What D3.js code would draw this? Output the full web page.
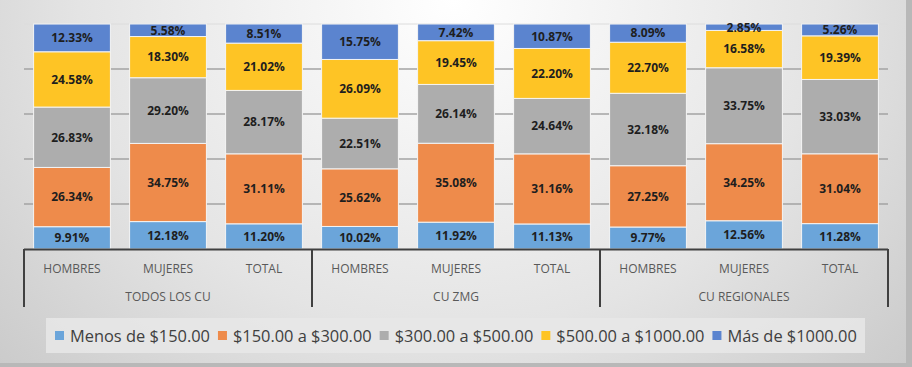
<!DOCTYPE html>
<html>
<head>
<meta charset="utf-8">
<script src="https://cdn.jsdelivr.net/npm/d3@7"></script>
<style>
  body { margin: 0; padding: 0; }
  svg { display: block; }
</style>
</head>
<body>
<div id="chart"></div>
<script>
// data
var groups = ["TODOS LOS CU", "CU ZMG", "CU REGIONALES"];
var cats = ["HOMBRES", "MUJERES", "TOTAL"];
var seriesNames = ["Menos de $150.00", "$150.00 a $300.00", "$300.00 a $500.00", "$500.00 a $1000.00", "Más de $1000.00"];
var menos150 = [9.91, 12.18, 11.20, 10.02, 11.92, 11.13, 9.77, 12.56, 11.28];
var de150a300 = [26.34, 34.75, 31.11, 25.62, 35.08, 31.16, 27.25, 34.25, 31.04];
var de300a500 = [26.83, 29.20, 28.17, 22.51, 26.14, 24.64, 32.18, 33.75, 33.03];
var de500a1000 = [24.58, 18.30, 21.02, 26.09, 19.45, 22.20, 22.70, 16.58, 19.39];
var mas1000 = [12.33, 5.58, 8.51, 15.75, 7.42, 10.87, 8.09, 2.85, 5.26];
var yTicks = [0, 20, 40, 60, 80, 100];

var allSeries = [menos150, de150a300, de300a500, de500a1000, mas1000];
var colors = ["#6ba5da", "#ee8b4b", "#adadad", "#fec425", "#5b84cf"];

var W = 912, H = 367;
var plot = {left: 24, right: 888, top: 24, bottom: 249};

var svg = d3.select("#chart").append("svg")
    .attr("width", W)
    .attr("height", H);

// background gradient
var defs = svg.append("defs");
var bg = defs.append("radialGradient")
    .attr("id", "bgGrad")
    .attr("cx", "50%").attr("cy", "0%")
    .attr("r", "75%")
    .attr("gradientTransform", "translate(0.5,0) scale(1,2.2) translate(-0.5,0)");
bg.append("stop").attr("offset", "0%").attr("stop-color", "#ffffff");
bg.append("stop").attr("offset", "55%").attr("stop-color", "#e4e4e4");
bg.append("stop").attr("offset", "100%").attr("stop-color", "#c4c4c4");

svg.append("rect")
    .attr("width", W).attr("height", H)
    .attr("fill", "#b8b8b8");
svg.append("rect")
    .attr("width", W - 6).attr("height", H - 4)
    .attr("fill", "url(#bgGrad)");

// x index for each bar
var idx = d3.range(groups.length * cats.length);
var x = d3.scaleBand()
    .domain(idx)
    .range([plot.left, plot.right])
    .paddingInner(0.2)
    .paddingOuter(0.1);

var y = d3.scaleLinear()
    .domain([0, 100])
    .range([plot.bottom, plot.top]);

// gridlines
svg.append("g")
    .selectAll("line")
    .data(yTicks.slice(1))
    .join("line")
    .attr("x1", plot.left).attr("x2", plot.right)
    .attr("y1", d => y(d)).attr("y2", d => y(d))
    .attr("stroke", d => d == 100 ? "#dcdcdc" : "#a3a3a3")
    .attr("stroke-width", d => d == 100 ? 1 : 1.6);

// stacked data
var rows = idx.map(function(i) {
    var r = {i: i};
    seriesNames.forEach(function(s, k) { r[s] = allSeries[k][i]; });
    return r;
});
var stack = d3.stack().keys(seriesNames)(rows);

var layer = svg.append("g")
    .selectAll("g")
    .data(stack)
    .join("g")
    .attr("fill", (d, k) => colors[k]);

layer.selectAll("rect")
    .data(d => d)
    .join("rect")
    .attr("x", d => x(d.data.i))
    .attr("width", x.bandwidth())
    .attr("y", d => y(d[1]))
    .attr("height", d => y(d[0]) - y(d[1]))
    .attr("stroke", "#f4f4f4")
    .attr("stroke-width", 1);

layer.selectAll("text")
    .data(d => d.map(v => ({v: v, key: d.key})))
    .join("text")
    .attr("x", d => x(d.v.data.i) + x.bandwidth() / 2)
    .attr("y", d => (y(d.v[0]) + y(d.v[1])) / 2)
    .attr("dy", "0.36em")
    .attr("text-anchor", "middle")
    .attr("font-family", "'Open Sans', sans-serif")
    .attr("font-weight", "bold")
    .attr("font-size", "12px")
    .attr("fill", "#1e1e1e")
    .text(d => d.v.data[d.key].toFixed(2) + "%");

// category axis
var axisColor = "#404040";
var axis = svg.append("g");
axis.append("line")
    .attr("x1", plot.left).attr("x2", plot.right)
    .attr("y1", plot.bottom + 0.5).attr("y2", plot.bottom + 0.5)
    .attr("stroke", axisColor).attr("stroke-width", 2);

var groupEdges = d3.range(groups.length + 1).map(g => plot.left + g * cats.length * (plot.right - plot.left) / idx.length);
axis.selectAll("line.sep")
    .data(groupEdges)
    .join("line")
    .attr("class", "sep")
    .attr("x1", d => d).attr("x2", d => d)
    .attr("y1", plot.bottom).attr("y2", 307)
    .attr("stroke", axisColor).attr("stroke-width", 2);

axis.selectAll("text.cat")
    .data(idx)
    .join("text")
    .attr("class", "cat")
    .attr("x", d => x(d) + x.bandwidth() / 2)
    .attr("y", 269)
    .attr("dy", "0.36em")
    .attr("text-anchor", "middle")
    .attr("font-family", "'Open Sans', sans-serif")
    .attr("font-size", "12px")
    .attr("fill", "#595959")
    .text(d => cats[d % cats.length]);

axis.selectAll("text.grp")
    .data(groups)
    .join("text")
    .attr("class", "grp")
    .attr("x", (d, g) => (groupEdges[g] + groupEdges[g + 1]) / 2)
    .attr("y", 297)
    .attr("dy", "0.36em")
    .attr("text-anchor", "middle")
    .attr("font-family", "'Open Sans', sans-serif")
    .attr("font-size", "12px")
    .attr("fill", "#595959")
    .text(d => d);

// legend
var legend = svg.append("g");
legend.append("rect")
    .attr("x", 46).attr("y", 318)
    .attr("width", 819).attr("height", 35)
    .attr("fill", "#e8e8e8")
    .attr("opacity", 0.85);

var lx = 55;
seriesNames.forEach(function(s, k) {
    legend.append("rect")
        .attr("x", lx).attr("y", 331)
        .attr("width", 9).attr("height", 9)
        .attr("fill", colors[k]);
    var t = legend.append("text")
        .attr("x", lx + 15)
        .attr("y", 336)
        .attr("dy", "0.36em")
        .attr("font-family", "'Open Sans', sans-serif")
        .attr("font-size", "16.4px")
        .attr("fill", "#404040")
        .text(s);
    lx += 15 + t.node().getComputedTextLength() + 8;
});
</script>
</body>
</html>
